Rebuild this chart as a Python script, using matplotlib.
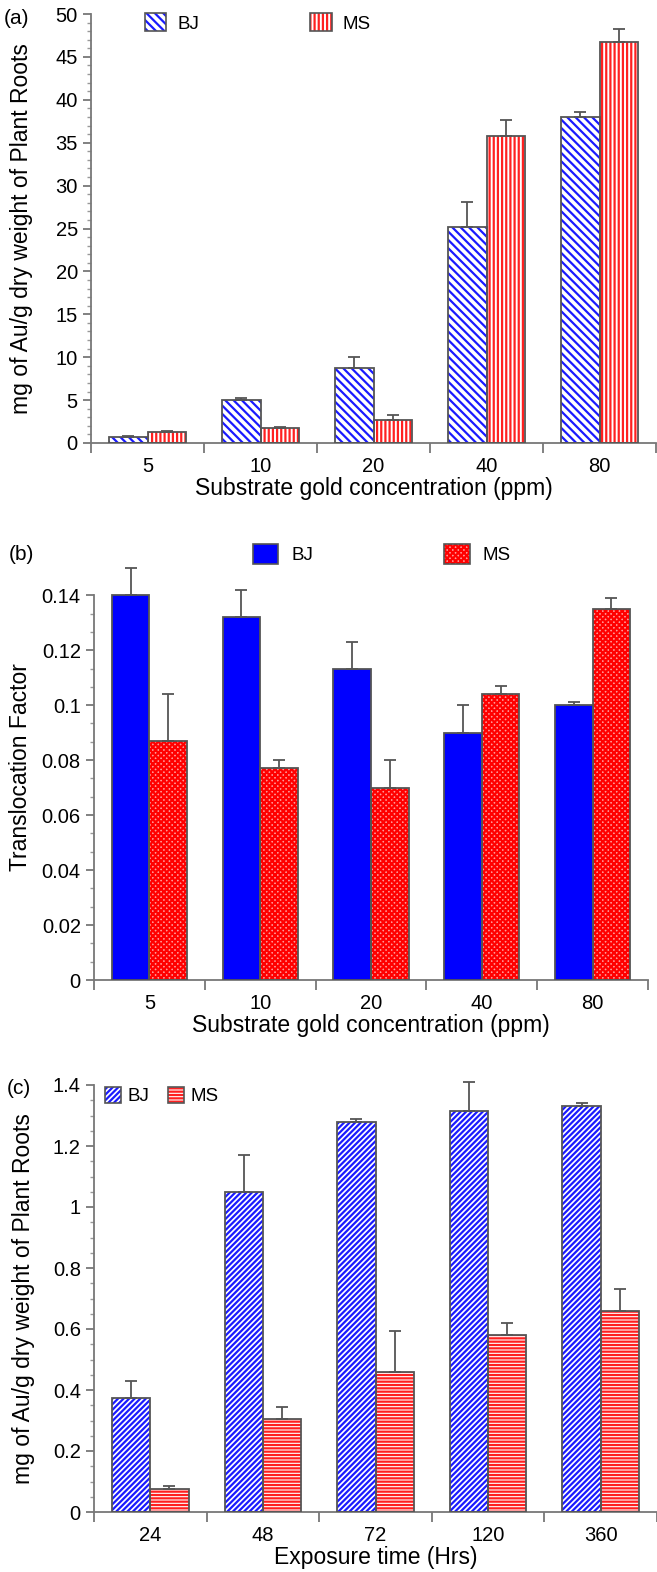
import matplotlib
matplotlib.use("Agg")
import matplotlib.pyplot as plt
import numpy as np
from matplotlib.patches import Patch
from matplotlib.legend_handler import HandlerTuple
from matplotlib.ticker import FixedLocator

plt.rcParams['font.family'] = ['Liberation Sans', 'DejaVu Sans']
plt.rcParams['hatch.linewidth'] = 1.6

# ---------------- data ----------------
conc_labels = ["5", "10", "20", "40", "80"]
time_labels = ["24", "48", "72", "120", "360"]

a_bj = [0.7, 5.0, 8.7, 25.2, 38.0]
a_bj_err = [0.1, 0.2, 1.3, 2.9, 0.6]
a_ms = [1.3, 1.75, 2.7, 35.8, 46.7]
a_ms_err = [0.1, 0.15, 0.6, 1.8, 1.5]

b_bj = [0.140, 0.132, 0.113, 0.090, 0.100]
b_bj_err = [0.010, 0.010, 0.010, 0.010, 0.001]
b_ms = [0.087, 0.077, 0.070, 0.104, 0.135]
b_ms_err = [0.017, 0.003, 0.010, 0.003, 0.004]

c_bj = [0.375, 1.05, 1.28, 1.315, 1.33]
c_bj_err = [0.055, 0.12, 0.01, 0.095, 0.01]
c_ms = [0.075, 0.305, 0.46, 0.58, 0.66]
c_ms_err = [0.01, 0.04, 0.135, 0.04, 0.07]

BLUE = '#1a1aff'
RED = '#ff2020'
EDGE = '#555555'
TICKFS = 14.5
LABFS = 16.5

fig = plt.figure(figsize=(6.57, 15.72), dpi=100)


def ax_rect(left, right, top, bottom):
    return [left / 657, 1 - bottom / 1572, (right - left) / 657, (bottom - top) / 1572]


def draw_err(ax, xc, vals, errs):
    eb = ax.errorbar(xc, vals, yerr=[np.zeros(len(vals)), errs],
                     fmt='none', ecolor=EDGE, elinewidth=1.3, capsize=4,
                     capthick=1.3, zorder=4)
    for art in eb.lines[1]:
        art.set_clip_on(False)
    for art in eb.lines[2]:
        art.set_clip_on(False)


def draw_bars(ax, x, vals, errs, face, hatch, hatchcol):
    ax.bar(x, vals, width=0.34, align='edge', color=face, edgecolor=hatchcol,
           hatch=hatch, linewidth=0, zorder=2)
    ax.bar(x, vals, width=0.34, align='edge', color='none', edgecolor=EDGE,
           linewidth=1.3, zorder=3)
    draw_err(ax, np.array(x) + 0.17, vals, errs)


def style_axes(ax, labels, ytop, ymaj, ymin_step, ylim_top, xlabel, ylabel,
               left_px, width_px, ylab_right_px, yfmt=None):
    ax.set_xlim(-0.5, 4.5)
    ax.set_ylim(0, ylim_top)
    for s in ['top', 'right']:
        ax.spines[s].set_visible(False)
    for s in ['left', 'bottom']:
        ax.spines[s].set_color('#777777')
        ax.spines[s].set_linewidth(1.3)
    ax.spines['left'].set_bounds(0, ytop)
    ax.xaxis.set_major_locator(FixedLocator([-0.5, 0.5, 1.5, 2.5, 3.5, 4.5]))
    ax.xaxis.set_minor_locator(FixedLocator([0, 1, 2, 3, 4]))
    ax.set_xticklabels([], minor=False)
    ax.set_xticklabels(labels, minor=True)
    ax.tick_params(axis='x', which='major', direction='out', length=7, width=1.3,
                   color='#777777')
    ax.tick_params(axis='x', which='minor', length=0, pad=10, labelsize=TICKFS)
    yt = np.arange(0, ytop + ymaj / 2, ymaj)
    ax.yaxis.set_major_locator(FixedLocator(yt))
    ax.yaxis.set_minor_locator(FixedLocator(np.arange(0, ytop + 1e-9, ymin_step)))
    if yfmt is not None:
        ax.set_yticklabels([yfmt(v) for v in yt])
    ax.tick_params(axis='y', which='major', direction='out', length=6, width=1.3,
                   color='#777777', labelsize=TICKFS)
    ax.tick_params(axis='y', which='minor', direction='out', length=3, width=1.0,
                   color='#999999')
    ax.set_xlabel(xlabel, fontsize=LABFS, labelpad=1)
    ax.set_ylabel(ylabel, fontsize=LABFS)
    ax.yaxis.set_label_coords((ylab_right_px - left_px) / width_px, 0.5)


def gfmt(v):
    return ('%.2f' % v).rstrip('0').rstrip('.')


def leg_handle(face, hatch, hatchcol):
    return (Patch(facecolor=face, edgecolor=hatchcol, hatch=hatch, linewidth=0),
            Patch(facecolor='none', edgecolor=EDGE, linewidth=1.2))


x = np.arange(5)

# ---------------- panel (a) ----------------
axa = fig.add_axes(ax_rect(91, 656, 14, 443))
draw_bars(axa, x - 0.34, a_bj, a_bj_err, 'white', '\\\\\\\\', BLUE)
draw_bars(axa, x, a_ms, a_ms_err, 'white', '||||', RED)
style_axes(axa, conc_labels, 50, 5, 1, 50, 'Substrate gold concentration (ppm)',
           'mg of Au/g dry weight of Plant Roots', 91, 565, 33)
fig.text(4 / 657, 1 - 18 / 1572, '(a)', fontsize=15, va='center')
axa.legend([leg_handle('white', '\\\\\\\\', BLUE), leg_handle('white', '||||', RED)],
           ['BJ', 'MS'], handler_map={tuple: HandlerTuple(ndivide=1)},
           ncol=2, frameon=False, fontsize=13.5,
           loc='upper left', bbox_to_anchor=(128 / 657, 1 + 4 / 1572),
           bbox_transform=fig.transFigure, handlelength=1.15, handleheight=1.15,
           columnspacing=5.9, handletextpad=0.6)

# ---------------- panel (b) ----------------
axb = fig.add_axes(ax_rect(94, 648, 554, 980))
axb.bar(x - 0.34, b_bj, width=0.34, align='edge', color='#0000ff', edgecolor=EDGE,
        linewidth=1.3, zorder=3)
draw_err(axb, x - 0.17, b_bj, b_bj_err)
draw_bars(axb, x, b_ms, b_ms_err, '#ff9a9a', 'xxxxxx', '#ff0000')
style_axes(axb, conc_labels, 0.14, 0.02, 0.02 / 3, 0.155,
           'Substrate gold concentration (ppm)', 'Translocation Factor',
           94, 554, 32, yfmt=gfmt)
fig.text(9 / 657, 1 - 555 / 1572, '(b)', fontsize=15, va='center')
axb.legend([(Patch(facecolor='#0000ff', edgecolor=EDGE, linewidth=1.2),),
            leg_handle('#ff9a9a', 'xxxxxx', '#ff0000')],
           ['BJ', 'MS'], handler_map={tuple: HandlerTuple(ndivide=1)},
           ncol=2, frameon=False, fontsize=13.5,
           loc='upper left', bbox_to_anchor=(236 / 657, 1 - 527 / 1572),
           bbox_transform=fig.transFigure, handlelength=1.35, handleheight=1.25,
           columnspacing=7.0, handletextpad=0.7)

# ---------------- panel (c) ----------------
axc = fig.add_axes(ax_rect(94, 657, 1085, 1512))
draw_bars(axc, x - 0.34, c_bj, c_bj_err, 'white', '//////', BLUE)
draw_bars(axc, x, c_ms, c_ms_err, 'white', '-----', RED)
style_axes(axc, time_labels, 1.4, 0.2, 0.05, 1.4, 'Exposure time (Hrs)',
           'mg of Au/g dry weight of Plant Roots', 94, 563, 35, yfmt=gfmt)
fig.text(7 / 657, 1 - 1088 / 1572, '(c)', fontsize=15, va='center')
axc.legend([leg_handle('white', '//////', BLUE), leg_handle('white', '-----', RED)],
           ['BJ', 'MS'], handler_map={tuple: HandlerTuple(ndivide=1)},
           ncol=2, frameon=False, fontsize=13.5,
           loc='upper left', bbox_to_anchor=(88 / 657, 1 - 1070 / 1572),
           bbox_transform=fig.transFigure, handlelength=0.85, handleheight=0.95,
           columnspacing=1.0, handletextpad=0.35)

fig.savefig('out.png', dpi=100)
